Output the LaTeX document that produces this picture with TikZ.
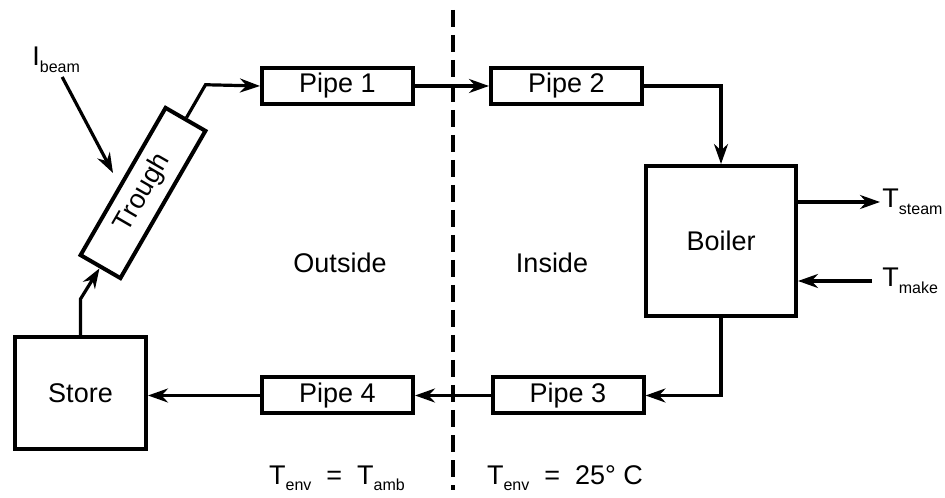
\documentclass[tikz,border=0pt]{standalone}
\usepackage{fontspec}
\setmainfont{Liberation Sans}
\usetikzlibrary{positioning, arrows.meta, calc}

\newcommand{\lowtext}[1]{\raisebox{-0.45ex}{\fontsize{8}{9}\selectfont #1}}

\begin{document}
\begin{tikzpicture}[
    x=0.5pt, y=0.5pt,
    >={Stealth[length=10pt, width=7pt]},
    pipe/.style={rectangle, draw, line width=2pt, minimum width=75.5pt, minimum height=18pt, inner sep=0pt, font=\fontsize{13.5}{15}\selectfont},
    tank/.style={rectangle, draw, line width=2pt, inner sep=0pt, font=\fontsize{13.5}{15}\selectfont},
    flow/.style={->, line width=1.6pt},
    label/.style={inner sep=1pt, font=\fontsize{13.5}{15}\selectfont},
    wall/.style={line width=1.6pt, dash pattern=on 8.5pt off 4pt}
]
    \useasboundingbox (0,0) rectangle (945,497);

    % loop components
    \node[tank, minimum width=65.5pt, minimum height=56pt] at (80.5, 104) (store) {Store};
    \node[tank, rotate=60, minimum width=85pt, minimum height=23pt] at (143, 304) (trough) {Trough};
    \node[pipe] at (337.5, 411) (pipe1) {Pipe 1};
    \node[pipe] at (566.5, 411) (pipe2) {Pipe 2};
    \node[tank, minimum size=75pt] at (721, 256) (boiler) {Boiler};
    \node[pipe] at (568, 101.5) (pipe3) {Pipe 3};
    \node[pipe] at (337.5, 101.5) (pipe4) {Pipe 4};

    % labels
    \node[label, anchor=west] at (30, 437) (ibeam) {I\lowtext{beam}};
    \node[label, anchor=west] at (880, 295) (tsteam) {T\lowtext{steam}};
    \node[label, anchor=west] at (880, 216) (tmake) {T\lowtext{make}};
    \node[label] at (340, 234) (outside) {Outside};
    \node[label] at (552, 234) (inside) {Inside};
    \node[label] at (337, 19) (envout) {T\lowtext{env}\ \ =\ \ T\lowtext{amb}};
    \node[label] at (565, 19) (envin) {T\lowtext{env}\ \ =\ \ 25° C};

    \coordinate (hit) at (113, 324);
    \coordinate (wallTop) at (453, 487);
    \coordinate (wallBot) at (453, 7);

    \draw[wall] (wallTop) -- (wallBot);

    \draw[flow] (store.north) -- ++(0, 36) -- (trough.west);
    \draw[flow] (trough.east) -- ++(60:38) -- (pipe1.west);
    \draw[flow] (pipe1) -- (pipe2);
    \draw[flow] (pipe2.east) -| (boiler.north);
    \draw[flow] (boiler.south) |- (pipe3.east);
    \draw[flow] (pipe3) -- (pipe4);
    \draw[flow] (pipe4.west) -- (store.east |- pipe4.west);

    \draw[flow] (ibeam.south) ++(6, -2) -- (hit);
    \draw[flow] (boiler.east |- tsteam) -- (tsteam.west);
    \draw[flow] (tmake.west) ++(-8, 0) -- (boiler.east |- tmake);
\end{tikzpicture}
\end{document}
